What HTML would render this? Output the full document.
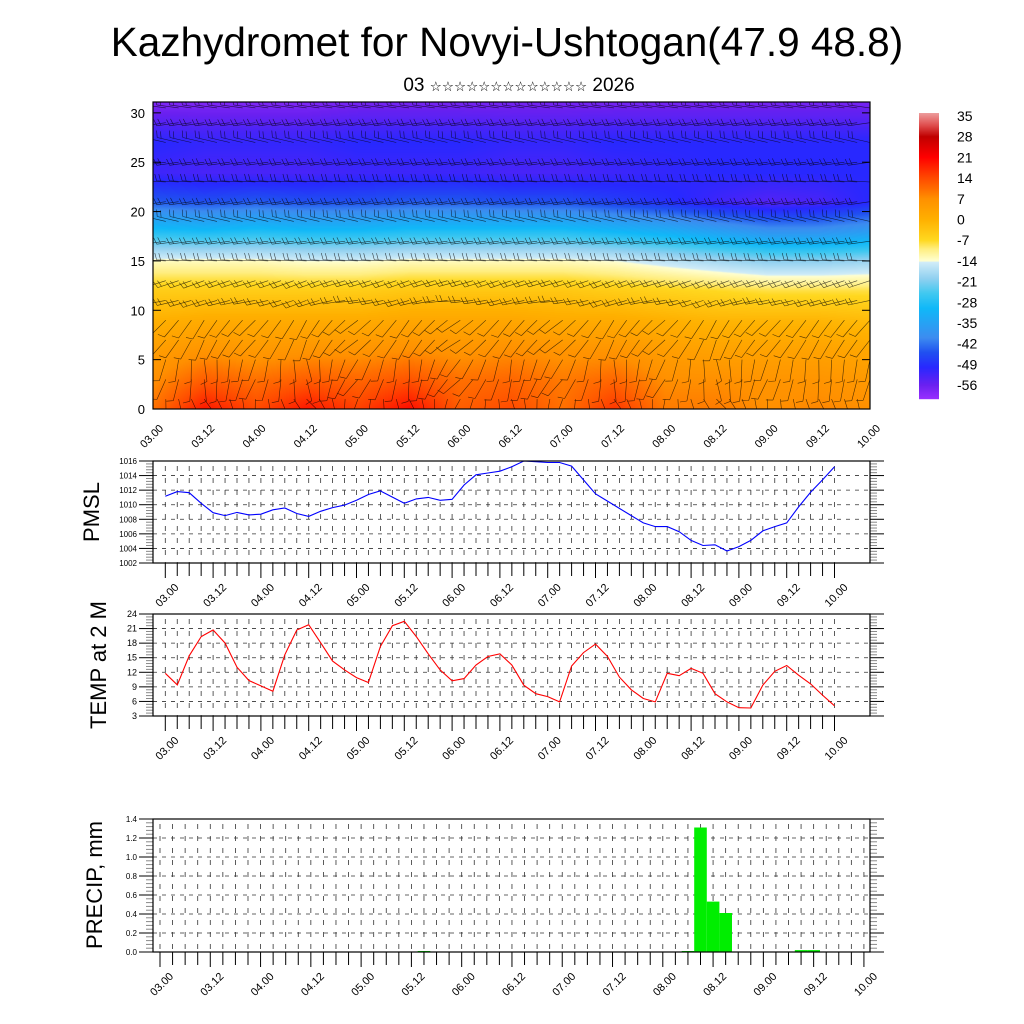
<!DOCTYPE html>
<html><head><meta charset="utf-8">
<style>
html,body{margin:0;padding:0;background:#fff;}
#wrap{position:relative;width:1024px;height:1024px;overflow:hidden;font-family:"Liberation Sans",sans-serif;}
#field{position:absolute;left:153px;top:102px;}
svg{position:absolute;left:0;top:0;}
</style></head>
<body>
<div id="wrap">
<canvas id="field" width="717" height="307"></canvas>
<svg id="svg" width="1024" height="1024">
<defs><clipPath id="topclip"><rect x="153" y="102" width="717" height="307"/></clipPath></defs>
<text x="507" y="56" font-size="40.5" text-anchor="middle">Kazhydromet for Novyi-Ushtogan(47.9 48.8)</text>
<text x="519" y="91" font-size="19" text-anchor="middle">03 <tspan font-size="13.5" font-family="DejaVu Sans, sans-serif">☆☆☆☆☆☆☆☆☆☆☆☆☆</tspan> 2026</text>
<text transform="translate(99,512) rotate(-90)" font-size="22" text-anchor="middle">PMSL</text>
<text transform="translate(106,665) rotate(-90)" font-size="22" text-anchor="middle">TEMP at 2 M</text>
<text transform="translate(102,885) rotate(-90)" font-size="22" text-anchor="middle">PRECIP, mm</text>
</svg>
</div>
<script>
const timeLabels = ['03.00','03.12','04.00','04.12','05.00','05.12','06.00','06.12','07.00','07.12','08.00','08.12','09.00','09.12','10.00'];
const pmsl = [1011.15,1011.8,1011.65,1010.2,1008.9,1008.5,1008.95,1008.6,1008.7,1009.3,1009.55,1008.8,1008.4,1009.1,1009.6,1009.95,1010.6,1011.4,1011.9,1011.05,1010.2,1010.8,1011.0,1010.6,1010.75,1012.7,1014.1,1014.35,1014.6,1015.2,1016,1015.9,1015.8,1015.8,1015.3,1013.4,1011.5,1010.5,1009.5,1008.5,1007.5,1007.0,1007.0,1006.3,1005.1,1004.4,1004.5,1003.65,1004.25,1005.1,1006.4,1007,1007.5,1009.7,1011.7,1013.4,1015.2];
const temp = [11.8,9.4,15.4,19.35,20.7,18,13.05,10.3,9.2,8.1,15.6,20.7,21.8,18.1,14.3,12.5,10.9,9.9,17.3,21.6,22.5,19.35,15.8,12.5,10.25,10.7,13.5,15.25,15.8,13.5,9.35,7.6,7.0,5.9,13.3,16.05,17.8,15.25,11,8.4,6.6,5.9,11.8,11.3,12.8,11.8,7.6,5.9,4.7,4.65,9.35,12.2,13.4,11.4,9.6,7.3,5.1];
const precip = [0,0,0,0,0,0,0,0,0,0,0,0,0,0,0,0,0,0,0,0,0,0.01,0,0,0,0,0,0,0,0,0,0,0,0,0,0,0,0,0,0,0,0,0.01,1.31,0.53,0.41,0,0,0,0,0,0.02,0.02,0,0,0,0];
const pmslTicks = [1002,1004,1006,1008,1010,1012,1014,1016];
const tempTicks = [3,6,9,12,15,18,21,24];
const precipTicks = [0,0.2,0.4,0.6,0.8,1.0,1.2,1.4];
const precipTickLabels = ['0.0','0.2','0.4','0.6','0.8','1.0','1.2','1.4'];
const heightTicks = [0,5,10,15,20,25,30];
const cbLabels = [35,28,21,14,7,0,-7,-14,-21,-28,-35,-42,-49,-56];
const fieldHeights = [0,3,6,9,12,15,18,21,24,27,31];
const fieldT = [
[10,7,4,0,-5,-13,-28,-44,-52,-50,-58],
[19,12,6,1,-5,-13,-29,-45,-53,-51,-58],
[14,10,5,1,-5,-13,-28,-44,-53,-51,-58],
[19,12,6,1,-5,-14,-29,-45,-53,-51,-58],
[15,11,6,1,-5,-14,-29,-45,-52,-50,-57],
[20,13,7,2,-4,-13,-28,-44,-52,-50,-57],
[12,10,6,2,-4,-13,-28,-44,-52,-50,-57],
[14,11,7,2,-4,-13,-28,-45,-53,-51,-57],
[10,9,6,1,-4,-13,-28,-45,-53,-51,-57],
[16,11,6,1,-5,-14,-30,-47,-52,-50,-57],
[9,7,4,0,-6,-16,-32,-49,-51,-50,-57],
[9,7,3,-1,-7,-18,-35,-52,-50,-50,-57],
[7,6,3,-1,-8,-20,-38,-54,-50,-50,-57],
[8,6,3,-1,-8,-20,-38,-53,-50,-50,-57],
[7,5,2,-2,-8,-19,-36,-50,-50,-50,-57]];
const windHeights = [1,3,5,7,9,11,13,15,17,19,21,23,25,27,29,30.5];
const windDir = [180,190,200,210,230,250,260,265,270,275,270,265,270,275,270,270];
const windSpd = [10,15,20,20,25,30,35,40,45,50,55,50,40,35,30,30];
const colOffset = [20,-30,10,-40,30,-20,40,-10,30,-30,20,-40,10,-20,0];

const NS='http://www.w3.org/2000/svg';
const svg=document.getElementById('svg');
function mk(tag,attrs,parent){const e=document.createElementNS(NS,tag);for(const k in attrs)e.setAttribute(k,attrs[k]);(parent||svg).appendChild(e);return e;}

const stops=[[-61,[155,48,255]],[-56,[106,32,240]],[-50,[40,40,255]],[-45,[32,80,240]],[-40,[60,140,240]],[-30,[16,184,248]],[-25,[64,200,240]],[-20,[144,208,240]],[-14.5,[208,236,248]],[-14,[255,255,208]],[-10,[255,238,128]],[-7,[255,216,32]],[0,[255,176,0]],[7,[255,144,0]],[10,[255,112,0]],[14,[255,74,0]],[18,[255,32,0]],[21,[255,0,0]],[28,[192,0,0]],[32,[224,80,80]],[37,[240,176,176]]];
function cmap(v){if(v<=stops[0][0])return stops[0][1];for(let i=1;i<stops.length;i++){if(v<=stops[i][0]){const a=stops[i-1],b=stops[i];const f=(v-a[0])/(b[0]-a[0]);return a[1].map((c,j)=>Math.round(c+(b[1][j]-c)*f));}}return stops[stops.length-1][1];}

const TX0=153,TX1=870,TY0=102,TY1=409,HMAX=31.1;
const tx=i=>TX0+(TX1-TX0)*i/56;
const ty=h=>TY1-(TY1-TY0)*h/HMAX;
function fieldAt(c,h){const ci=Math.min(13,Math.floor(c));const fc=c-ci;let hi=0;while(hi<fieldHeights.length-2&&h>fieldHeights[hi+1])hi++;const fh=Math.max(0,Math.min(1,(h-fieldHeights[hi])/(fieldHeights[hi+1]-fieldHeights[hi])));const a=fieldT[ci][hi]*(1-fh)+fieldT[ci][hi+1]*fh;const b=fieldT[ci+1][hi]*(1-fh)+fieldT[ci+1][hi+1]*fh;return a*(1-fc)+b*fc;}
const cv=document.getElementById('field');const ctx=cv.getContext('2d');const img=ctx.createImageData(717,307);
for(let py=0;py<307;py++){const h=(TY1-(TY0+py))*HMAX/(TY1-TY0);for(let px=0;px<717;px++){const c=px/717*14;const col=cmap(fieldAt(c,h));const k=(py*717+px)*4;img.data[k]=col[0];img.data[k+1]=col[1];img.data[k+2]=col[2];img.data[k+3]=255;}}
ctx.putImageData(img,0,0);

const barbG=mk('g',{stroke:'#000','stroke-width':'0.6',fill:'none',opacity:'0.7','clip-path':'url(#topclip)'});


for(let i=0;i<=56;i++){for(let r=0;r<windHeights.length;r++){
  const c=i/4;const ci=Math.min(13,Math.floor(c)),fc=c-ci;
  const off=colOffset[ci]*(1-fc)+colOffset[ci+1]*fc;
  const low=Math.max(0,1-windHeights[r]/14);
  const d=(windDir[r]+off*low+(r%2?8:-8))*Math.PI/180;
  const x=tx(i),y=ty(windHeights[r]);const L=22;
  const ex=x+Math.sin(d)*L,ey=y-Math.cos(d)*L;
  let p='M'+x.toFixed(1)+' '+y.toFixed(1)+'L'+ex.toFixed(1)+' '+ey.toFixed(1);
  const nf=Math.min(2,Math.round(windSpd[r]/20));
  for(let f=0;f<nf;f++){const bx=x+Math.sin(d)*(L-f*4),by=y-Math.cos(d)*(L-f*4);const pd=d+Math.PI*0.4;p+='M'+bx.toFixed(1)+' '+by.toFixed(1)+'l'+(Math.sin(pd)*7).toFixed(1)+' '+(-Math.cos(pd)*7).toFixed(1);}
  mk('path',{d:p},barbG);
}}
const tf=mk('rect',{x:TX0,y:TY0,width:TX1-TX0,height:TY1-TY0,fill:'none',stroke:'#000','stroke-width':'1.2'});


heightTicks.forEach(h=>{const y=ty(h);mk('line',{x1:TX0,x2:TX0+8,y1:y,y2:y,stroke:'#000'});mk('line',{x1:TX1-8,x2:TX1,y1:y,y2:y,stroke:'#000'});
  const t=mk('text',{x:145,y:y+5,'font-size':'13','text-anchor':'end'});t.textContent=h;
  
  });
timeLabels.forEach((l,k)=>{const x=tx(k*4);const t=mk('text',{transform:`translate(${x+11},${TY1+20}) rotate(-45)`,'font-size':'11','text-anchor':'end'});t.textContent=l;
  
  });

const CB0=113,CB1=399;const cbY=v=>116+(35-v)/7*20.7;
for(let y=CB0;y<CB1;y++){const v=35-(y+0.5-116)/20.7*7;const c=cmap(v);const r=mk('rect',{x:919,y:y,width:20,height:1.2,fill:`rgb(${c[0]},${c[1]},${c[2]})`});
  
  }
cbLabels.forEach(v=>{const t=mk('text',{x:957,y:cbY(v)+5,'font-size':'14'});t.textContent=v;
  
  });

function panel(opt){
  const {name,y0,y1,x0,step,dmin,dmax,ticks,tlabels,lblFont}=opt;
  const X0=153,X1=870;
  const px=i=>x0+step*i;const py=v=>y1-(y1-y0)*(v-dmin)/(dmax-dmin);
  const g=mk('g',{});
  
  
  for(let i=0;i<=56;i++){const x=px(i);
    mk('line',{x1:x,x2:x,y1:y0+5,y2:y1,stroke:'#333','stroke-width':'0.8','stroke-dasharray':'5,7'},g);
    mk('line',{x1:x,x2:x,y1:y1,y2:y1+(i%4==0?15:13),stroke:'#000','stroke-width':'1'},g);}
  ticks.forEach((v,k)=>{const y=py(v);
    if(k>0&&k<ticks.length-1)mk('line',{x1:X0,x2:X1,y1:y,y2:y,stroke:'#333','stroke-width':'0.8','stroke-dasharray':'4,5'},g);
    mk('line',{x1:X0-14,x2:X0,y1:y,y2:y,stroke:'#000','stroke-width':'1'},g);
    mk('line',{x1:X1,x2:X1+14,y1:y,y2:y,stroke:'#000','stroke-width':'1'},g);
    if(k<ticks.length-1){for(let m=1;m<5;m++){const ym=y-(y-py(ticks[k+1]))*m/5;
      mk('line',{x1:X0-7,x2:X0,y1:ym,y2:ym,stroke:'#888','stroke-width':'1'},g);
      mk('line',{x1:X1,x2:X1+7,y1:ym,y2:ym,stroke:'#888','stroke-width':'1'},g);}}
    const t=mk('text',{x:X0-16,y:y+3,'font-size':lblFont,'text-anchor':'end'},g);t.textContent=tlabels[k];
    
    });
  timeLabels.forEach((l,k)=>{const x=px(k*4);const t=mk('text',{transform:`translate(${x+14},${y1+25}) rotate(-45)`,'font-size':'11','text-anchor':'end'},g);t.textContent=l;
    
    });
  return {g,px,py,X0,X1};
}
function frame(p,y0,y1,name){const r=mk('rect',{x:p.X0,y:y0,width:p.X1-p.X0,height:y1-y0,fill:'none',stroke:'#000','stroke-width':'1.2'},p.g);
  
  }

const P1=panel({name:'pmsl',y0:461,y1:563,x0:165.3,step:11.95,dmin:1002,dmax:1016,ticks:pmslTicks,tlabels:pmslTicks,lblFont:'8'});
const l1=mk('polyline',{points:pmsl.map((v,i)=>P1.px(i).toFixed(1)+','+P1.py(v).toFixed(1)).join(' '),fill:'none',stroke:'#0000ff','stroke-width':'1.1'},P1.g);


frame(P1,461,563,'pmsl');

const P2=panel({name:'temp',y0:614,y1:716,x0:165.3,step:11.95,dmin:3,dmax:24,ticks:tempTicks,tlabels:tempTicks,lblFont:'9'});
const l2=mk('polyline',{points:temp.map((v,i)=>P2.px(i).toFixed(1)+','+P2.py(v).toFixed(1)).join(' '),fill:'none',stroke:'#ff0000','stroke-width':'1.1'},P2.g);


frame(P2,614,716,'temp');

const P3=panel({name:'precip',y0:819,y1:952,x0:160,step:12.57,dmin:0,dmax:1.4,ticks:precipTicks,tlabels:precipTickLabels,lblFont:'8'});
precip.forEach((v,i)=>{if(v<=0)return;const x=P3.px(i)-12.57/2;const y=P3.py(v);
  const b=mk('rect',{x:x.toFixed(1),y:y.toFixed(1),width:12.6,height:(952-y).toFixed(1),fill:'#00ee00'},P3.g);
  
  });
frame(P3,819,952,'precip');
</script>
</body></html>
